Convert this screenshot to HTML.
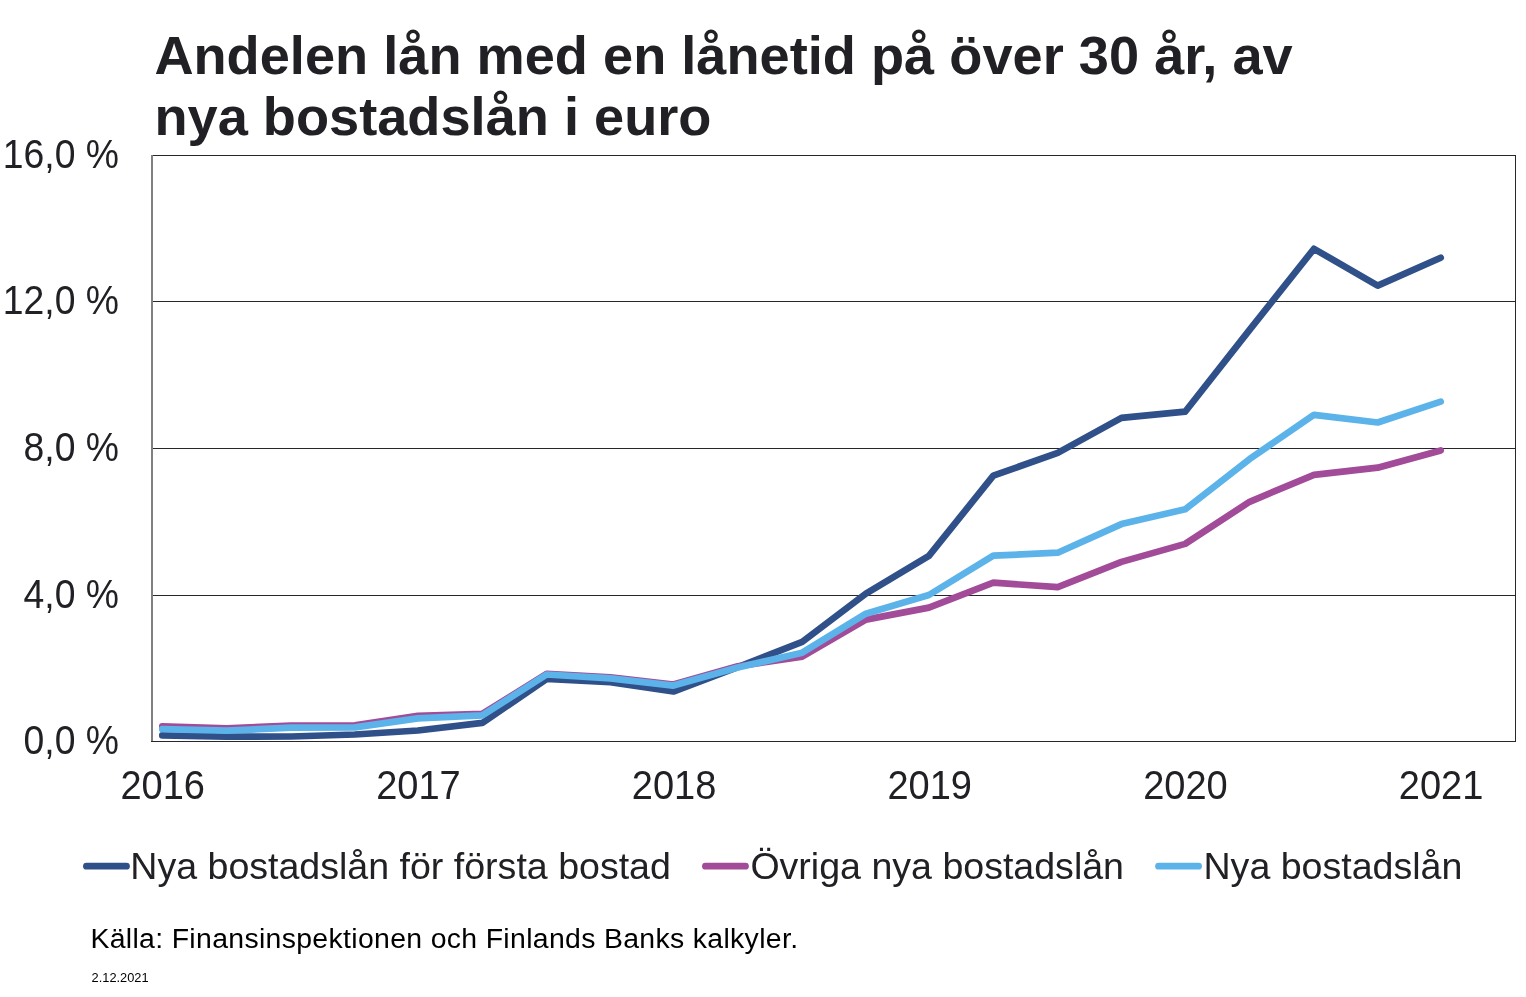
<!DOCTYPE html>
<html lang="sv"><head><meta charset="utf-8"><title>Andelen lån med en lånetid på över 30 år</title>
<style>html,body{margin:0;padding:0;background:#fff;overflow:hidden}svg{display:block}</style></head>
<body>
<svg width="1526" height="997" viewBox="0 0 1526 997">
<rect width="1526" height="997" fill="#fff"/>
<rect x="153" y="301" width="1363" height="1" fill="#26262b"/>
<rect x="153" y="448" width="1363" height="1" fill="#26262b"/>
<rect x="153" y="595" width="1363" height="1" fill="#26262b"/>
<rect x="151" y="155" width="2" height="586" fill="#808080"/>
<rect x="153" y="155" width="1363" height="1" fill="#26262b"/>
<rect x="151" y="741" width="1365" height="1" fill="#26262b"/>
<rect x="1515" y="155" width="1" height="587" fill="#26262b"/>
<polyline points="162.30,735.4 226.71,736.7 291.12,736.5 354.83,734.5 417.84,730.5 482.25,722.9 546.66,679.0 610.37,682.2 673.38,691.5 737.79,667.2 802.20,641.9 865.91,593.7 928.92,555.9 993.33,475.7 1057.74,452.9 1121.45,417.9 1185.16,411.7 1249.57,329.9 1313.98,248.8 1377.69,285.6 1440.70,257.7" fill="none" stroke="#30508a" stroke-width="6.7" stroke-linecap="round" stroke-linejoin="round"/>
<polyline points="162.30,726.4 226.71,728.3 291.12,725.6 354.83,725.4 417.84,715.9 482.25,713.8 546.66,673.9 610.37,677.4 673.38,684.5 737.79,666.2 802.20,656.6 865.91,619.6 928.92,607.6 993.33,582.7 1057.74,587.1 1121.45,561.9 1185.16,543.9 1249.57,501.8 1313.98,474.8 1377.69,467.7 1440.70,450.4" fill="none" stroke="#a24c99" stroke-width="6.7" stroke-linecap="round" stroke-linejoin="round"/>
<polyline points="162.30,729.1 226.71,730.6 291.12,727.7 354.83,727.4 417.84,718.4 482.25,715.4 546.66,674.5 610.37,678.3 673.38,685.6 737.79,667.6 802.20,652.7 865.91,613.7 928.92,595.0 993.33,555.7 1057.74,552.7 1121.45,524.1 1185.16,509.3 1249.57,459.1 1313.98,414.8 1377.69,422.5 1440.70,401.6" fill="none" stroke="#5bb3e9" stroke-width="6.7" stroke-linecap="round" stroke-linejoin="round"/>
<line x1="86.4" y1="866.2" x2="126.5" y2="866.2" stroke="#30508a" stroke-width="6.7" stroke-linecap="round"/>
<line x1="705.4" y1="866.2" x2="745.5" y2="866.2" stroke="#a24c99" stroke-width="6.7" stroke-linecap="round"/>
<line x1="1158.5" y1="866.2" x2="1198.6" y2="866.2" stroke="#5bb3e9" stroke-width="6.7" stroke-linecap="round"/>
<g font-family="'Liberation Sans', Arial, sans-serif" fill="#202025">
<text x="154.4" y="74.3" font-size="54.2" font-weight="bold">Andelen lån med en lånetid på över 30 år, av</text>
<text x="154.4" y="135.3" font-size="54.2" font-weight="bold">nya bostadslån i euro</text>
<text transform="translate(119,168.0) scale(1,1.07)" font-size="37.33" text-anchor="end">16,0 %</text>
<text transform="translate(119,314.1) scale(1,1.07)" font-size="37.33" text-anchor="end">12,0 %</text>
<text transform="translate(119,460.9) scale(1,1.07)" font-size="37.33" text-anchor="end">8,0 %</text>
<text transform="translate(119,607.7) scale(1,1.07)" font-size="37.33" text-anchor="end">4,0 %</text>
<text transform="translate(119,753.9) scale(1,1.07)" font-size="37.33" text-anchor="end">0,0 %</text>
<text transform="translate(162.7,798.7) scale(1,1.05)" font-size="38" text-anchor="middle">2016</text>
<text transform="translate(418.4,798.7) scale(1,1.05)" font-size="38" text-anchor="middle">2017</text>
<text transform="translate(674.1,798.7) scale(1,1.05)" font-size="38" text-anchor="middle">2018</text>
<text transform="translate(929.7,798.7) scale(1,1.05)" font-size="38" text-anchor="middle">2019</text>
<text transform="translate(1185.4,798.7) scale(1,1.05)" font-size="38" text-anchor="middle">2020</text>
<text transform="translate(1441.1,798.7) scale(1,1.05)" font-size="38" text-anchor="middle">2021</text>
<text x="130.3" y="878.5" font-size="37.55">Nya bostadslån för första bostad</text>
<text x="750.4" y="878.5" font-size="37.55">Övriga nya bostadslån</text>
<text x="1203.5" y="878.5" font-size="37.55">Nya bostadslån</text>
</g>
<g font-family="'Liberation Sans', Arial, sans-serif" fill="#000">
<text x="90.4" y="948" font-size="28.4" letter-spacing="0.34">Källa: Finansinspektionen och Finlands Banks kalkyler.</text>
<text x="91.6" y="982.1" font-size="12.8">2.12.2021</text>
</g>
</svg>
</body></html>
